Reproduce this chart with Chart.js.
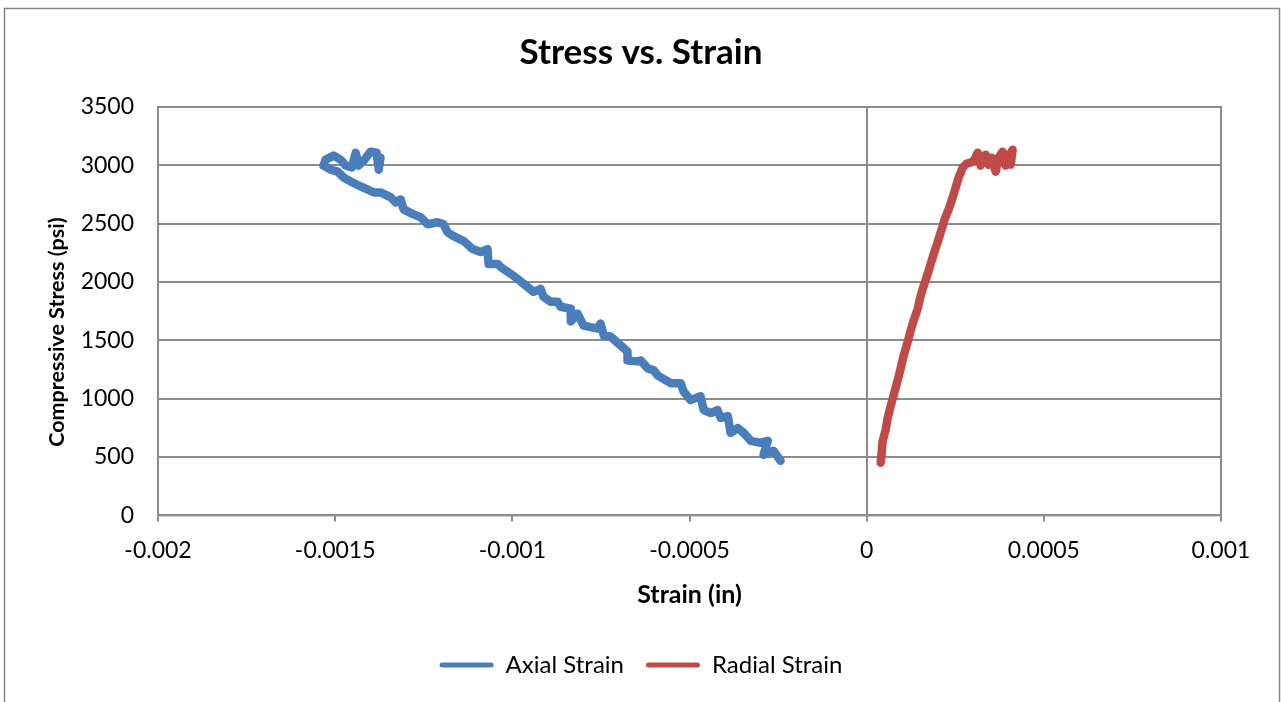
<!DOCTYPE html>
<html>
<head>
<meta charset="utf-8">
<script src="https://cdn.jsdelivr.net/npm/chart.js@4/dist/chart.umd.min.js"></script>
<style>
  html, body { margin: 0; padding: 0; background: #fff; }
  #wrap { position: absolute; left: 0; top: 0; width: 1282px; height: 702px; }
</style>
</head>
<body>
<div id="wrap"><canvas id="chart"></canvas></div>
<script>
// axial strain (in) vs stress (psi)
var axialStrain = [
    -0.000243, -0.000263, -0.000291, -0.000279, -0.000299, -0.000327, -0.000347, -0.000364, -0.000384, -0.000392,
    -0.000412, -0.000421, -0.000440, -0.000460, -0.000469, -0.000497, -0.000517, -0.000525, -0.000553, -0.000576,
    -0.000590, -0.000601, -0.000618, -0.000638, -0.000646, -0.000675, -0.000675, -0.000694, -0.000723, -0.000742,
    -0.000751, -0.000759, -0.000799, -0.000816, -0.000835, -0.000835, -0.000864, -0.000872, -0.000892, -0.000912,
    -0.000920, -0.000940, -0.000968, -0.000996, -0.001033, -0.001041, -0.001067, -0.001070, -0.001089, -0.001112,
    -0.001137, -0.001166, -0.001183, -0.001194, -0.001211, -0.001239, -0.001259, -0.001279, -0.001307, -0.001315,
    -0.001329, -0.001343, -0.001372, -0.001391, -0.001428, -0.001456, -0.001476, -0.001493, -0.001513, -0.001533,
    -0.001527, -0.001504, -0.001485, -0.001470, -0.001453, -0.001442, -0.001434, -0.001417, -0.001400, -0.001383,
    -0.001377, -0.001372
];
var axialStress = [
    468, 554, 519, 639, 622, 639, 707, 749, 707, 852,
    835, 903, 877, 903, 1022, 988, 1064, 1133, 1133, 1175,
    1201, 1243, 1260, 1328, 1320, 1328, 1405, 1456, 1533, 1541,
    1644, 1601, 1627, 1729, 1661, 1771, 1788, 1831, 1831, 1873,
    1942, 1916, 1984, 2052, 2129, 2155, 2155, 2282, 2257, 2282,
    2350, 2393, 2427, 2495, 2512, 2495, 2555, 2580, 2623, 2708,
    2682, 2725, 2768, 2768, 2819, 2861, 2895, 2946, 2963, 2998,
    3049, 3083, 3049, 2998, 2981, 3108, 2998, 3049, 3117, 3108,
    2963, 3066
];

// radial strain
var radialStrain = [
    0.0000395, 0.0000423, 0.0000452, 0.0000536, 0.0000593, 0.0000677, 0.0000762, 0.0000875, 0.0000960, 0.0001044,
    0.0001129, 0.0001242, 0.0001326, 0.0001439, 0.0001524, 0.0001609, 0.0001722, 0.0001806, 0.0001919, 0.0002004,
    0.0002117, 0.0002201, 0.0002314, 0.0002427, 0.0002512, 0.0002596, 0.0002709, 0.0002822, 0.0002935, 0.0003048,
    0.0003133, 0.0003217, 0.0003358, 0.0003443, 0.0003528, 0.0003641, 0.0003725, 0.0003838, 0.0003923, 0.0004036,
    0.0004120, 0.0004064
];
var radialStress = [
    451, 537, 639, 732, 835, 937, 1030, 1158, 1260, 1371,
    1456, 1584, 1669, 1771, 1882, 1967, 2069, 2155, 2265, 2342,
    2453, 2538, 2623, 2725, 2810, 2895, 2981, 3015, 3023, 3049,
    3108, 2998, 3091, 3006, 3066, 2946, 3066, 3117, 2998, 3091,
    3134, 3006
];

var seriesNames = ['Axial Strain', 'Radial Strain'];
var xTicks = [-0.002, -0.0015, -0.001, -0.0005, 0, 0.0005, 0.001];
var yTicks = [0, 500, 1000, 1500, 2000, 2500, 3000, 3500];

var FONT = 'Lato, "Liberation Sans", sans-serif';
var GRID = '#8c8c8c';

function toPoints(xs, ys) {
    return xs.map(function(x, i) { return { x: x, y: ys[i] }; });
}

// white page, outer chart frame and plot area border
var framePlugin = {
    id: 'frame',
    beforeDraw: function(chart) {
        var ctx = chart.ctx;
        ctx.save();
        ctx.fillStyle = '#fff';
        ctx.fillRect(0, 0, chart.width, chart.height);
        ctx.strokeStyle = '#868686';
        ctx.lineWidth = 1.5;
        ctx.strokeRect(4.5, 8.5, 1275, 720);
        ctx.restore();
    },
    afterDatasetsDraw: function(chart) {
        var a = chart.chartArea, ctx = chart.ctx;
        ctx.save();
        ctx.strokeStyle = GRID;
        ctx.lineWidth = 2;
        ctx.strokeRect(a.left, a.top, a.right - a.left, a.bottom - a.top);
        ctx.restore();
    }
};

function lineSet(label, xs, ys, color) {
    return {
        label: label,
        data: toPoints(xs, ys),
        showLine: true,
        borderColor: color,
        backgroundColor: color,
        borderWidth: 8.5,
        borderCapStyle: 'round',
        borderJoinStyle: 'round',
        pointRadius: 0,
        tension: 0
    };
}

new Chart(document.getElementById('chart'), {
    type: 'scatter',
    data: {
        datasets: [
            lineSet(seriesNames[0], axialStrain, axialStress, '#4A7EBB'),
            lineSet(seriesNames[1], radialStrain, radialStress, '#BE4B48')
        ]
    },
    options: {
        responsive: true,
        maintainAspectRatio: false,
        animation: false,
        layout: { padding: { left: 0, right: 0, top: 0, bottom: 15 } },
        plugins: {
            title: {
                display: true,
                text: 'Stress vs. Strain',
                color: '#000',
                font: { family: FONT, size: 35, weight: 'bold' },
                padding: { top: 32, bottom: 33 }
            },
            legend: {
                position: 'bottom',
                labels: {
                    color: '#000',
                    font: { family: FONT, size: 24 },
                    boxWidth: 54,
                    boxHeight: 5,
                    padding: 22,
                    useBorderRadius: true,
                    borderRadius: 2.5,
                    generateLabels: function(chart) {
                        var base = Chart.defaults.plugins.legend.labels.generateLabels(chart);
                        return base.map(function(l) {
                            l.lineWidth = 0;
                            l.fillStyle = l.strokeStyle;
                            l.borderRadius = 2.5;
                            return l;
                        });
                    }
                }
            },
            tooltip: { enabled: false }
        },
        scales: {
            x: {
                type: 'linear',
                min: xTicks[0],
                max: xTicks[xTicks.length - 1],
                afterBuildTicks: function(scale) {
                    scale.ticks = xTicks.map(function(v) { return { value: v }; });
                },
                border: { display: true, color: GRID, width: 2 },
                grid: {
                    color: function(c) { return c.tick && c.tick.value === 0 ? GRID : 'rgba(0,0,0,0)'; },
                    lineWidth: 2,
                    tickColor: GRID,
                    tickLength: 6,
                    drawTicks: true
                },
                ticks: {
                    color: '#000',
                    font: { family: FONT, size: 23 },
                    padding: 15,
                    maxRotation: 0,
                    callback: function(v) { return String(+Number(v).toFixed(4)); }
                },
                title: {
                    display: true,
                    text: 'Strain (in)',
                    color: '#000',
                    font: { family: FONT, size: 25, weight: 'bold' },
                    padding: { top: 1, bottom: 21 }
                }
            },
            y: {
                min: yTicks[0],
                max: yTicks[yTicks.length - 1],
                afterBuildTicks: function(scale) {
                    scale.ticks = yTicks.map(function(v) { return { value: v }; });
                },
                afterFit: function(scale) { scale.width = 158; },
                border: { display: true, color: GRID, width: 2 },
                grid: {
                    color: GRID,
                    lineWidth: 2,
                    drawTicks: false
                },
                ticks: {
                    color: '#000',
                    font: { family: FONT, size: 23 },
                    padding: 24,
                    callback: function(v) { return String(v); }
                },
                title: {
                    display: true,
                    text: 'Compressive Stress (psi)        ',
                    color: '#000',
                    font: { family: FONT, size: 21.5, weight: 'bold' },
                    padding: { top: 44, bottom: 0 }
                }
            },
            // empty right-hand gutter so the legend and title centre on the page
            gutter: {
                type: 'linear',
                position: 'right',
                display: true,
                afterFit: function(scale) { scale.width = 61; },
                border: { display: false },
                grid: { display: false, drawTicks: false },
                ticks: { display: false }
            }
        }
    },
    plugins: [framePlugin]
});
</script>
</body>
</html>
